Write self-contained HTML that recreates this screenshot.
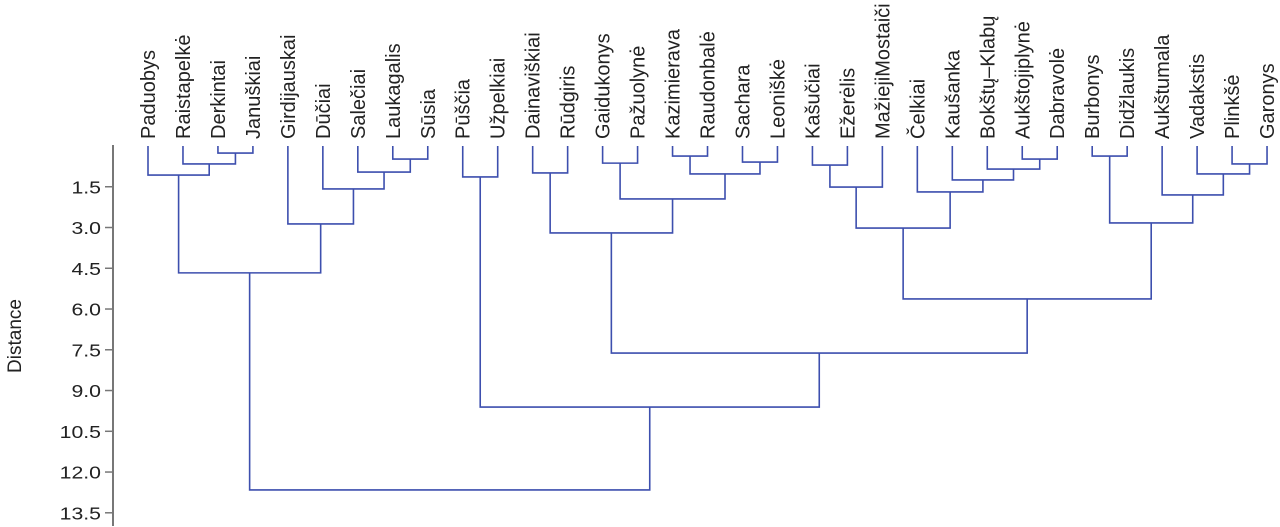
<!DOCTYPE html>
<html><head><meta charset="utf-8"><style>
html,body{margin:0;padding:0;background:#fff;}
svg{display:block;font-family:"Liberation Sans",Arial,sans-serif;}
</style></head><body>
<svg id="chart" width="1280" height="527" viewBox="0 0 1280 527" xmlns="http://www.w3.org/2000/svg"></svg>
<script>
const leafNames = ["Paduobys","Raistapelkė","Derkintai","Januškiai","Girdijauskai","Dūčiai","Salečiai","Laukagalis","Sūsia","Pūščia","Užpelkiai","Dainaviškiai","Rūdgiris","Gaidukonys","Pažuolynė","Kazimierava","Raudonbalė","Sachara","Leoniškė","Kašučiai","Ežerėlis","MažiejiMostaiči","Čelkiai","Kaušanka","Bokštų–Klabų","Aukštojiplynė","Dabravolė","Burbonys","Didžlaukis","Aukštumala","Vadakstis","Plinkšė","Garonys"];
const mergeLeft  = [2,1,0,7,6,5,4,35,9,11,13,15,17,44,43,42,19,49,25,24,23,22,50,27,31,30,29,56,55,48,41,40];
const mergeRight = [3,33,34,8,36,37,38,39,10,12,14,16,18,45,46,47,20,21,26,51,52,53,54,28,32,57,58,59,60,61,62,63];
const mergeHeight = [0.26,0.66,1.07,0.48,0.96,1.58,2.87,4.67,1.14,0.99,0.63,0.37,0.59,1.03,1.95,3.2,0.7,1.51,0.48,0.85,1.25,1.69,3.02,0.37,0.66,1.03,1.8,2.83,5.63,7.62,9.61,12.66];
const tickValues = [1.5,3.0,4.5,6.0,7.5,9.0,10.5,12.0,13.5];

const NS="http://www.w3.org/2000/svg";
const svg=document.getElementById('chart');
const y0=146, pxPerUnit=27.17, x0=148, step=34.97;
const yScale=d=>y0+d*pxPerUnit;
const xLeaf=i=>x0+i*step;
function mk(tag,attrs){const e=document.createElementNS(NS,tag);for(const k in attrs)e.setAttribute(k,attrs[k]);svg.appendChild(e);return e;}

const axis=mk('line',{x1:113,y1:145,x2:113,y2:526,stroke:'#777','stroke-width':2});


tickValues.forEach(v=>{
  const y=yScale(v);
  const t=mk('line',{x1:105,y1:y,x2:113,y2:y,stroke:'#777','stroke-width':1.5});
  
  
  const l=mk('text',{x:0,y:0,'text-anchor':'end','font-size':18,fill:'#222',transform:`translate(101,${y+6.5}) scale(1.18,1)`});
  l.textContent=v.toFixed(1);
  
  
});
const title=mk('text',{x:0,y:0,'text-anchor':'middle','font-size':19,fill:'#222',transform:'translate(21,336) rotate(-90)'});
title.textContent='Distance';



const nodeX=[],nodeH=[];
leafNames.forEach((n,i)=>{
  nodeX[i]=xLeaf(i);nodeH[i]=0;
  const t=mk('text',{x:0,y:0,'text-anchor':'start','font-size':20,fill:'#222',transform:`translate(${xLeaf(i)+7},139) rotate(-90)`});
  t.textContent=n;
  
  
});
const N=leafNames.length;
mergeLeft.forEach((a,k)=>{
  const b=mergeRight[k],h=mergeHeight[k];
  const xa=nodeX[a],xb=nodeX[b],yh=yScale(h);
  const p=mk('path',{d:`M${xa},${yScale(nodeH[a])}V${yh}H${xb}V${yScale(nodeH[b])}`,fill:'none',stroke:'#3d4fae','stroke-width':1.6});
  
  
  nodeX[N+k]=(xa+xb)/2;nodeH[N+k]=h;
});
</script>
</body></html>
